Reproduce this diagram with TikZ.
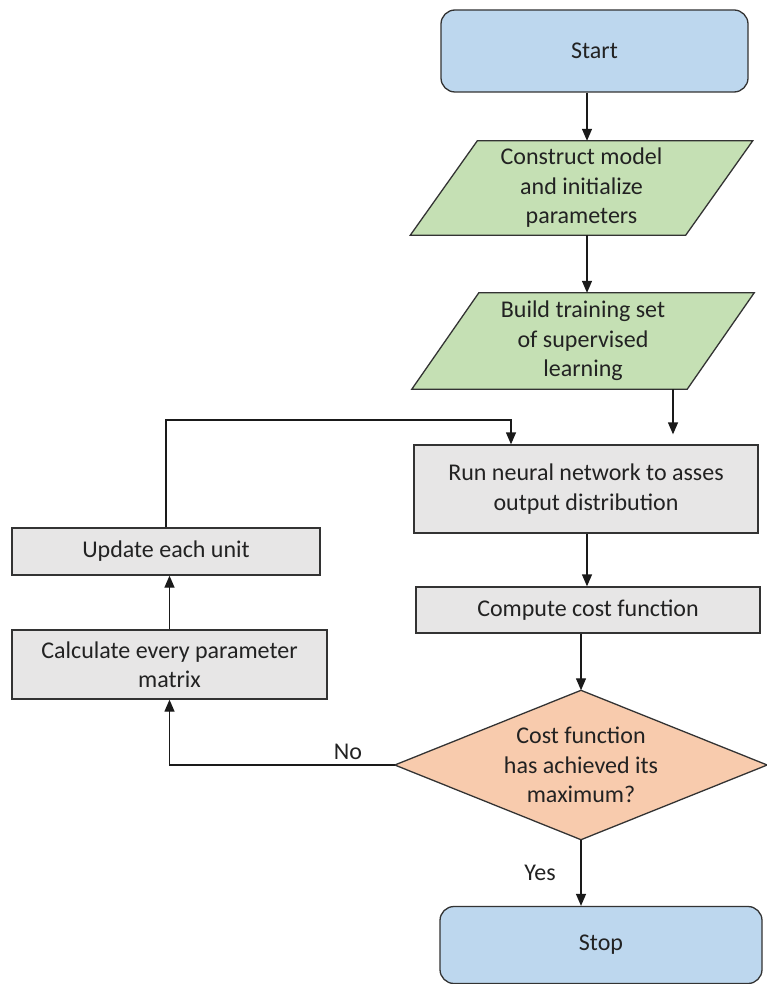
\documentclass[tikz,border=0pt]{standalone}
\usepackage{fontspec}
\setmainfont{Carlito}
\usetikzlibrary{arrows.meta,backgrounds,calc}
\definecolor{blueF}{HTML}{BDD7EE}
\definecolor{greenF}{HTML}{C5E0B4}
\definecolor{grayF}{HTML}{E7E6E6}
\definecolor{orangeF}{HTML}{F8CBAD}
\definecolor{edge}{HTML}{333333}
\definecolor{txt}{HTML}{222222}
\definecolor{lineC}{HTML}{1A1A1A}
\begin{document}
\begin{tikzpicture}[x=1pt,y=-1pt,
  every node/.style={font=\fontsize{24pt}{29.5pt}\selectfont, text=txt, align=center, inner sep=0pt},
  term/.style={draw=edge, fill=blueF, rounded corners=14pt, line width=1.3pt},
  proc/.style={draw=edge, fill=grayF, line width=1.3pt},
  shapeline/.style={draw=edge, line width=1.3pt},
  arr/.style={-{Triangle[length=12pt,width=10pt]}, line width=1.3pt, draw=lineC},
  lbl/.style={text=txt}]
\useasboundingbox (0,0) rectangle (767,984);

\node[term, minimum width=307pt, minimum height=82pt] (start) at (594.5,51) {Start};
\node[minimum width=275pt, minimum height=94pt] (p1) at (581.5,188) {Construct model\\and initialize\\parameters};
\node[minimum width=275pt, minimum height=96pt] (p2) at (583,341) {Build training set\\of supervised\\learning};
\node[proc, minimum width=344pt, minimum height=88pt] (run) at (586,489) {Run neural network to asses\\output distribution};
\node[proc, minimum width=344pt, minimum height=46pt] (cost) at (588,610) {Compute cost function};
\node[minimum width=372pt, minimum height=149pt] (dec) at (581,765) {Cost function\\has achieved its\\maximum?};
\node[proc, minimum width=308pt, minimum height=47pt] (upd) at (166,551.5) {Update each unit};
\node[proc, minimum width=315pt, minimum height=69pt] (calc) at (169.5,664.5) {Calculate every parameter\\matrix};
\node[term, minimum width=322pt, minimum height=77pt] (stop) at (601,945) {Stop};

\begin{scope}[on background layer]
  \draw[shapeline, fill=greenF] ([xshift=33.5pt]p1.north west) -- ([xshift=33.5pt]p1.north east)
     -- ([xshift=-33.5pt]p1.south east) -- ([xshift=-33.5pt]p1.south west) -- cycle;
  \draw[shapeline, fill=greenF] ([xshift=33.5pt]p2.north west) -- ([xshift=33.5pt]p2.north east)
     -- ([xshift=-33.5pt]p2.south east) -- ([xshift=-33.5pt]p2.south west) -- cycle;
  \draw[shapeline, fill=orangeF] (dec.north) -- (dec.east) -- (dec.south) -- (dec.west) -- cycle;
\end{scope}

\coordinate (xa) at (587,0);
\coordinate (xb) at (673,0);
\coordinate (xc) at (511,0);
\coordinate (ytop) at (0,420);

\draw[arr] (start.south -| xa) -- (p1.north -| xa);
\draw[arr] (p1.south -| xa) -- (p2.north -| xa);
\draw[arr, shorten >=10pt] (p2.south -| xb) -- (run.north -| xb);
\draw[arr] (run.south -| xa) -- (cost.north -| xa);
\draw[arr] (cost.south -| dec.north) -- (dec.north);
\draw[arr] (dec.south) -- (stop.north -| dec.south);
\draw[arr] (dec.west) -| (calc.south);
\draw[arr] (calc.north) -- (calc.north |- upd.south);
\draw[arr] (upd.north) -- (upd.north |- ytop) -| (run.north -| xc);

\node[lbl] (no) at (348,752) {No};
\node[lbl] (yes) at (540,873) {Yes};
\end{tikzpicture}
\end{document}
